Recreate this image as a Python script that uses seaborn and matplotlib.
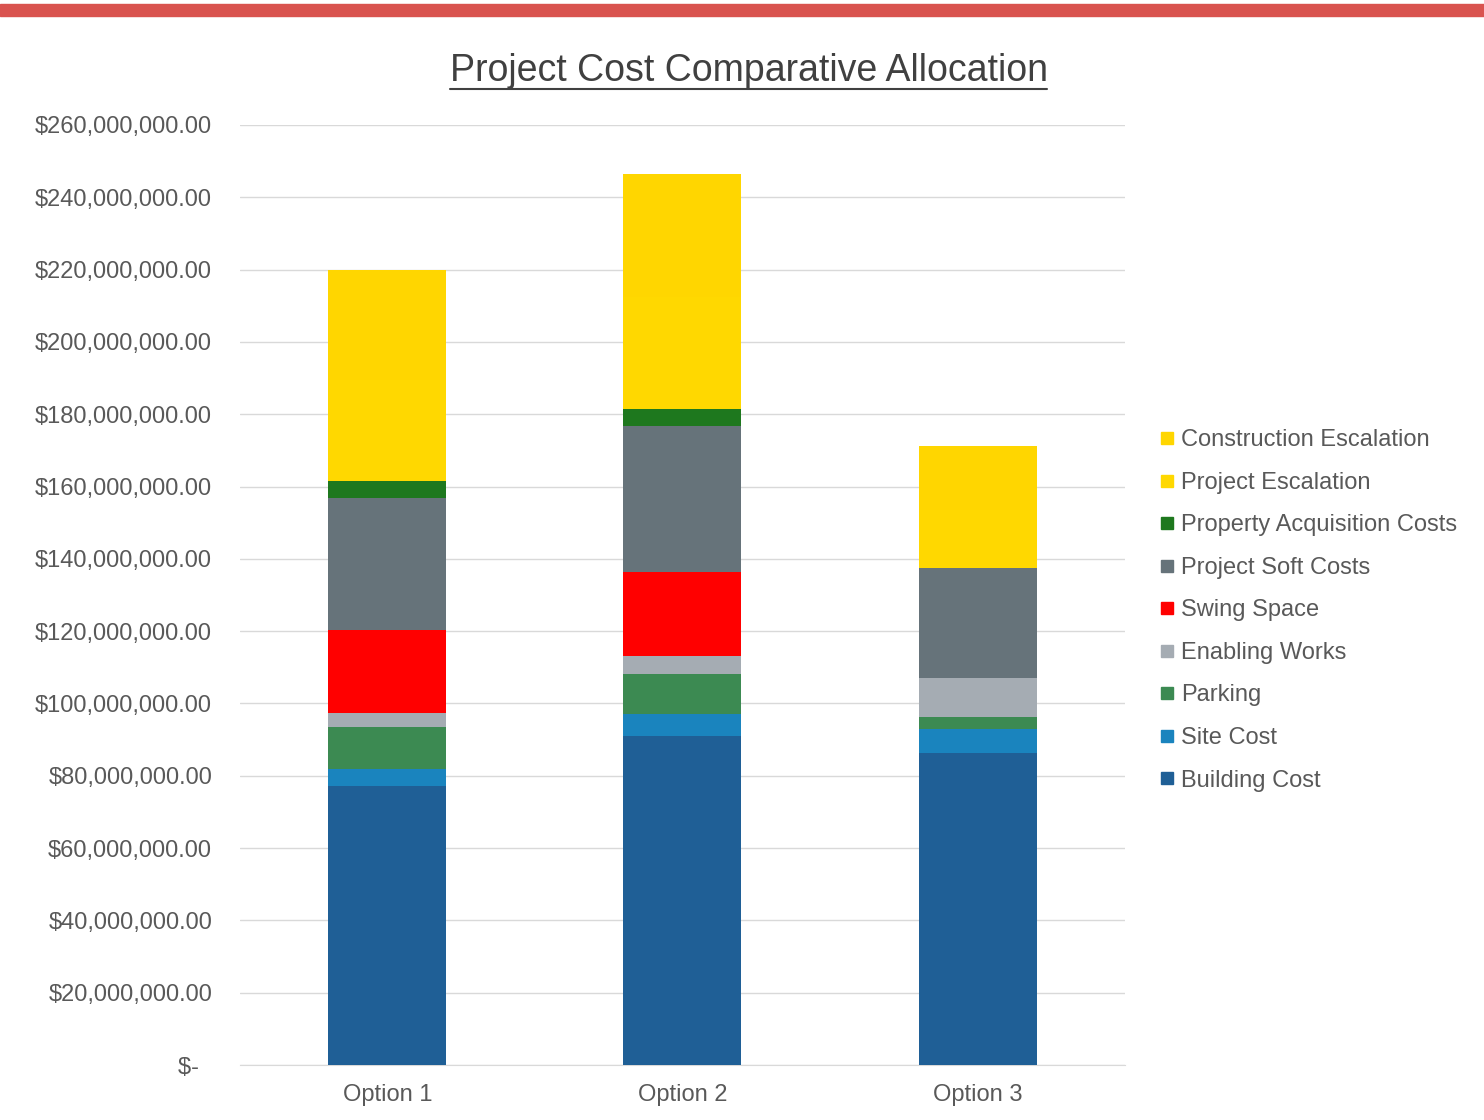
import matplotlib
matplotlib.use("Agg")
import matplotlib.pyplot as plt
from matplotlib.lines import Line2D
from matplotlib.patches import Rectangle
import seaborn as sns
import numpy as np

# Data (values in dollars)
options = ['Option 1', 'Option 2', 'Option 3']
series = ['Building Cost', 'Site Cost', 'Parking', 'Enabling Works', 'Swing Space',
          'Project Soft Costs', 'Property Acquisition Costs', 'Project Escalation',
          'Construction Escalation']
building_cost = [77.2e6, 91.0e6, 86.3e6]
site_cost = [4.7e6, 6.1e6, 6.6e6]
parking = [11.6e6, 11.1e6, 3.4e6]
enabling_works = [3.9e6, 4.9e6, 10.8e6]
swing_space = [23.0e6, 23.3e6, 0.0]
project_soft_costs = [36.5e6, 40.4e6, 30.4e6]
property_acquisition = [4.5e6, 4.7e6, 0.0]
project_escalation = [28.0e6, 31.0e6, 16.0e6]
construction_escalation = [30.6e6, 34.0e6, 17.7e6]

colors = ['#1F5F96', '#1A84BE', '#3C8A52', '#A5ACB3', '#FF0000',
          '#66737A', '#1E781E', '#FFD800', '#FFD600']

values = [building_cost, site_cost, parking, enabling_works, swing_space,
          project_soft_costs, property_acquisition, project_escalation,
          construction_escalation]

sns.set_style('white')
plt.rcParams['font.family'] = ['Liberation Sans', 'DejaVu Sans']

fig = plt.figure(figsize=(14.84, 11.2), dpi=100)
ax = fig.add_axes([0.1617, 0.0491, 0.5964, 0.8393])

# stacked bars: draw cumulative totals from top layer down
cum = np.cumsum(np.array(values), axis=0)
for i in range(len(series) - 1, -1, -1):
    sns.barplot(x=options, y=cum[i], color=colors[i], width=0.4,
                saturation=1, ax=ax, zorder=3, linewidth=0, edgecolor=colors[i])

ax.set_ylim(0, 260e6)
ax.set_xlim(-0.5, 2.5)
ticks = np.arange(0, 260e6 + 1, 20e6)
ax.set_yticks(ticks)
ax.set_yticklabels(['$-  ' if t == 0 else '${:,.2f}'.format(t) for t in ticks])
ax.grid(axis='y', color='#D9D9D9', linewidth=1, zorder=0)
ax.set_axisbelow(True)
for s in ['top', 'right', 'left']:
    ax.spines[s].set_visible(False)
ax.spines['bottom'].set_color('#D9D9D9')
ax.tick_params(axis='y', labelsize=17, labelcolor='#595959', length=0, pad=20)
ax.tick_params(axis='x', labelsize=17, labelcolor='#595959', length=0, pad=14)
ax.set_xlabel('')
ax.set_ylabel('')

fig.text(0.505, 0.937, 'Project Cost Comparative Allocation', ha='center', va='center',
         fontsize=27, color='#404040')
# underline for the title
fig.add_artist(Line2D([0.3035, 0.7055], [0.9205, 0.9205], color='#404040', linewidth=1.5))

# red band across the top
fig.add_artist(Rectangle((0, 1 - 16 / 1120), 1, 12 / 1120, color='#D9534F',
                         transform=fig.transFigure))

handles = [Line2D([], [], marker='s', linestyle='', markersize=8,
                  markerfacecolor=colors[i], markeredgecolor=colors[i])
           for i in range(len(series) - 1, -1, -1)]
labels = [series[i] for i in range(len(series) - 1, -1, -1)]
fig.legend(handles, labels, loc='center left', bbox_to_anchor=(0.767, 0.455),
           frameon=False, fontsize=17, labelcolor='#595959', labelspacing=0.87,
           handletextpad=0.3, handlelength=0.6)

fig.savefig('out.png', dpi=100, facecolor='white')
